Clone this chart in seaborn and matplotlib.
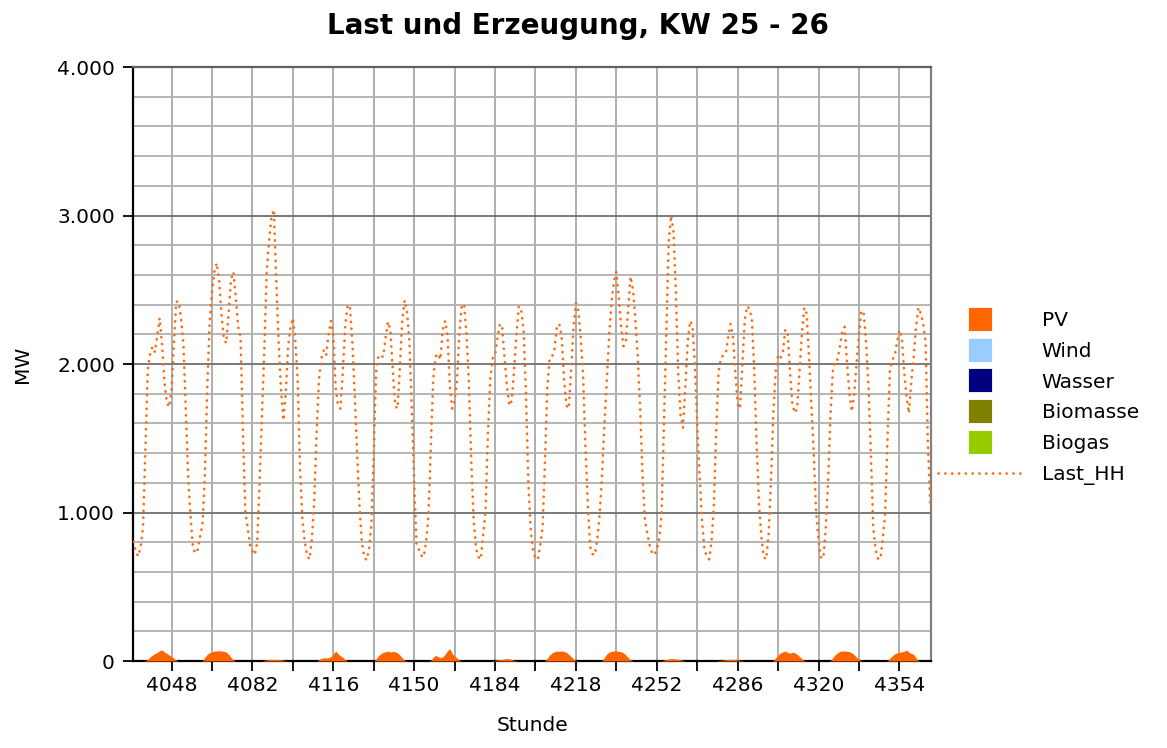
import numpy as np
import pandas as pd
import matplotlib
matplotlib.use("Agg")
import matplotlib.pyplot as plt
import seaborn as sns
from matplotlib.lines import Line2D
from matplotlib.ticker import FuncFormatter, MultipleLocator

# hourly values, one row per day (KW 25 - 26, hours 4032 .. 4367)
start_hour = 4032

last_hh = [
    [803, 730, 705, 770, 900, 1420, 1960, 2070, 2117, 2080, 2190, 2310, 2130, 1880, 1740, 1710, 1820, 2150, 2420, 2420, 2300, 2130, 1680, 1230],
    [970, 760, 725, 750, 840, 920, 1250, 1830, 2280, 2480, 2620, 2680, 2560, 2330, 2170, 2140, 2350, 2570, 2620, 2450, 2250, 2180, 1550, 1010],
    [900, 780, 740, 715, 800, 1200, 1650, 2100, 2620, 2830, 2990, 3040, 2560, 2150, 1830, 1620, 1800, 2120, 2250, 2310, 2160, 1900, 1300, 960],
    [800, 710, 685, 820, 1080, 1550, 1900, 2040, 2094, 2060, 2200, 2290, 2200, 1840, 1720, 1700, 1950, 2250, 2400, 2380, 2150, 1800, 1400, 1050],
    [800, 700, 680, 750, 920, 1400, 1950, 2060, 2050, 2050, 2180, 2285, 2229, 1960, 1720, 1700, 1980, 2300, 2430, 2350, 2150, 1700, 1200, 780],
    [750, 710, 700, 800, 980, 1450, 1900, 2050, 2070, 2030, 2230, 2290, 2200, 1850, 1700, 1750, 1890, 2200, 2400, 2400, 2200, 1870, 1350, 950],
    [760, 700, 685, 850, 1010, 1530, 1900, 2040, 2060, 2170, 2270, 2250, 2040, 1850, 1720, 1750, 1960, 2200, 2390, 2360, 2230, 1800, 1200, 880],
    [740, 690, 685, 780, 900, 1350, 1850, 2040, 2049, 2100, 2250, 2270, 2184, 1900, 1720, 1700, 1960, 2250, 2410, 2360, 2180, 1930, 1450, 1050],
    [770, 720, 715, 820, 990, 1250, 1600, 1890, 2200, 2420, 2560, 2620, 2450, 2250, 2120, 2150, 2380, 2590, 2500, 2300, 2050, 1700, 1250, 950],
    [860, 780, 730, 714, 750, 820, 980, 1600, 2200, 2820, 3000, 2900, 2500, 1950, 1650, 1570, 1850, 2150, 2290, 2260, 2000, 1600, 1250, 950],
    [760, 700, 685, 800, 1050, 1560, 1950, 2040, 2060, 2070, 2180, 2270, 2190, 1950, 1730, 1700, 2000, 2300, 2390, 2370, 2296, 1950, 1450, 1050],
    [830, 700, 685, 850, 1200, 1670, 1950, 2060, 2040, 2080, 2230, 2220, 1950, 1730, 1670, 1700, 1950, 2200, 2380, 2340, 2050, 1730, 1400, 1000],
    [815, 700, 690, 880, 1200, 1640, 1950, 2030, 2030, 2120, 2220, 2250, 2000, 1800, 1680, 1800, 2005, 2200, 2360, 2340, 2150, 1850, 1400, 900],
    [750, 690, 685, 820, 994, 1500, 1950, 2030, 2049, 2150, 2229, 2184, 1950, 1780, 1668, 1880, 2050, 2250, 2380, 2340, 2274, 2150, 1450, 1050],
]

pv = [
    [0, 0, 0, 0, 0, 2, 12, 28, 40, 50, 58, 70, 75, 60, 52, 40, 30, 18, 6, 0, 0, 0, 0, 0],
    [0, 0, 0, 0, 0, 3, 25, 45, 55, 62, 67, 68, 70, 67, 65, 60, 45, 25, 8, 0, 0, 0, 0, 0],
    [0, 0, 0, 0, 0, 0, 0, 5, 8, 10, 11, 11, 11, 10, 9, 6, 3, 0, 0, 0, 0, 0, 0, 0],
    [0, 0, 0, 0, 0, 0, 10, 18, 22, 20, 22, 30, 50, 67, 48, 35, 25, 10, 0, 0, 0, 0, 0, 0],
    [0, 0, 0, 0, 0, 0, 15, 35, 50, 58, 62, 67, 60, 65, 62, 55, 40, 20, 5, 0, 0, 0, 0, 0],
    [0, 0, 0, 0, 0, 5, 25, 38, 30, 22, 28, 45, 70, 83, 50, 33, 20, 5, 0, 0, 0, 0, 0, 0],
    [0, 0, 0, 0, 0, 0, 0, 2, 5, 8, 10, 12, 14, 16, 15, 10, 5, 1, 0, 0, 0, 0, 0, 0],
    [0, 0, 0, 0, 0, 2, 20, 40, 55, 62, 67, 65, 68, 64, 58, 45, 30, 15, 4, 0, 0, 0, 0, 0],
    [0, 0, 0, 0, 0, 3, 25, 48, 60, 65, 68, 67, 66, 62, 55, 40, 22, 8, 0, 0, 0, 0, 0, 0],
    [0, 0, 0, 0, 0, 0, 2, 6, 10, 14, 16, 15, 14, 12, 8, 4, 0, 0, 0, 0, 0, 0, 0, 0],
    [0, 0, 0, 0, 0, 1, 3, 5, 7, 9, 10, 11, 11, 10, 8, 5, 2, 0, 0, 0, 0, 0, 0, 0],
    [0, 0, 0, 0, 0, 3, 22, 40, 55, 62, 67, 58, 52, 60, 55, 45, 30, 15, 3, 0, 0, 0, 0, 0],
    [0, 0, 0, 0, 0, 2, 22, 42, 55, 65, 68, 67, 66, 63, 55, 42, 25, 10, 2, 0, 0, 0, 0, 0],
    [0, 0, 0, 0, 0, 2, 18, 35, 48, 55, 58, 62, 65, 74, 60, 50, 45, 20, 3, 0, 0, 0, 0, 0],
]

# no generation from these sources in these two weeks
wind = [0] * 336
wasser = [0] * 336
biomasse = [0] * 336
biogas = [0] * 336

sources = ["PV", "Wind", "Wasser", "Biomasse", "Biogas"]
source_colors = ["#FF6600", "#99CCFF", "#000080", "#808000", "#99CC00"]
load_color = "#FF6A10"
dotted = (0, (0.1, 2.48))

xtick_hours = [4048, 4065, 4082, 4099, 4116, 4133, 4150, 4167, 4184, 4201,
               4218, 4235, 4252, 4269, 4286, 4303, 4320, 4337, 4354]
xtick_labels = ["4048", "", "4082", "", "4116", "", "4150", "", "4184", "",
                "4218", "", "4252", "", "4286", "", "4320", "", "4354"]
yticks = [0, 1000, 2000, 3000, 4000]

hours = np.arange(start_hour, start_hour + 336)
df = pd.DataFrame({
    "Stunde": hours,
    "Last_HH": np.ravel(last_hh),
    "PV": np.ravel(pv),
})

sns.set_style("white")
plt.rcParams["font.family"] = ["DejaVu Sans"]
plt.rcParams["text.color"] = "black"
plt.rcParams["axes.labelcolor"] = "black"
plt.rcParams["xtick.color"] = "black"
plt.rcParams["ytick.color"] = "black"

fig = plt.figure(figsize=(11.67, 7.48), dpi=100)
ax = fig.add_axes([0.114, 0.1163, 0.684, 0.7941])

ax.stackplot(df["Stunde"], df["PV"], wind, wasser, biomasse, biogas,
             colors=source_colors, linewidth=0, zorder=3)

sns.lineplot(data=df, x="Stunde", y="Last_HH", ax=ax, color=load_color,
             linewidth=1.9, linestyle=dotted,
             dash_capstyle="round", legend=False, zorder=4)

ax.set_xlim(4031.8, 4367.4)
ax.set_ylim(0, 4000)

ax.set_xticks(xtick_hours)
ax.set_xticklabels(xtick_labels)
ax.set_yticks(yticks)
ax.yaxis.set_major_formatter(FuncFormatter(lambda v, p: f"{int(v):,}".replace(",", ".")))
ax.yaxis.set_minor_locator(MultipleLocator(200))

ax.grid(False)
for h in xtick_hours:
    ax.axvline(h, color="#a8a8a8", lw=1.3, zorder=1)
for v in range(200, 4000, 200):
    c = "#707070" if v % 1000 == 0 else "#b0b0b0"
    ax.axhline(v, color=c, lw=1.3, zorder=1)

ax.tick_params(axis="both", which="major", direction="out", length=7, width=1.3,
               color="black", labelsize=14.5, left=True, bottom=True)
ax.tick_params(axis="y", which="minor", length=0)
ax.tick_params(axis="y", pad=6)
ax.tick_params(axis="x", pad=4)

for side in ["left", "bottom"]:
    ax.spines[side].set_color("black")
    ax.spines[side].set_linewidth(1.6)
ax.spines["top"].set_color("#606060")
ax.spines["right"].set_color("#808080")
ax.spines["top"].set_linewidth(1.6)
ax.spines["right"].set_linewidth(1.6)

ax.set_xlabel("Stunde", fontsize=14.5)
ax.xaxis.set_label_coords(0.5, -0.093)
ax.set_ylabel("MW", fontsize=14.5)
ax.yaxis.set_label_coords(-0.127, 0.5)
fig.suptitle("Last und Erzeugung, KW 25 - 26", x=0.495, y=0.965, va="center",
             fontsize=20, fontweight="bold")

handles = [Line2D([], [], marker="s", linestyle="none", markersize=17,
                  markerfacecolor=c, markeredgecolor="white", markeredgewidth=0.6)
           for c in source_colors]
handles.append(Line2D([], [], color=load_color, linewidth=1.9,
                      linestyle=dotted, dash_capstyle="round"))
fig.legend(handles, sources + ["Last_HH"], loc="upper left",
           bbox_to_anchor=(0.8038, 0.584), frameon=False, fontsize=14.5,
           handlelength=4.2, handletextpad=0.95, labelspacing=0.58,
           borderpad=0, borderaxespad=0)

fig.savefig("out.png", dpi=100)
